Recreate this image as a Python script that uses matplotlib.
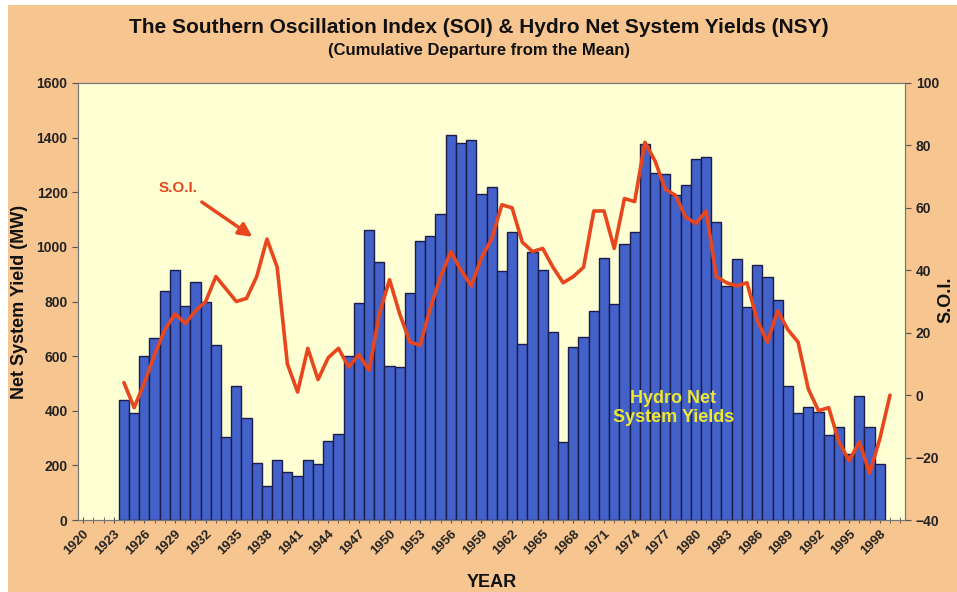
import matplotlib
matplotlib.use("Agg")
import matplotlib.pyplot as plt
import numpy as np
from matplotlib import font_manager

# ---------------- data ----------------
nsy_years = list(range(1924, 1999))
nsy_values = [440, 390, 600, 665, 840, 915, 785, 870, 800, 640,
              305, 490, 375, 208, 125, 220, 175, 160, 220, 205,
              290, 315, 600, 795, 1060, 945, 565, 560, 830, 1020,
              1040, 1120, 1410, 1380, 1390, 1195, 1220, 910, 1055, 645,
              980, 915, 690, 285, 635, 670, 765, 960, 790, 1010,
              1055, 1375, 1270, 1265, 1190, 1225, 1320, 1330, 1090, 855,
              955, 780, 935, 890, 805, 490, 390, 415, 395, 310,
              340, 240, 455, 340, 205]

soi_years = list(range(1924, 2000))
soi_values = [4, -4, 4, 13, 21, 26, 23, 27, 30, 38,
              34, 30, 31, 38, 50, 41, 10, 1, 15, 5,
              12, 15, 9, 13, 8, 26, 37, 26, 17, 16,
              28, 38, 46, 40, 35, 44, 50, 61, 60, 49,
              46, 47, 41, 36, 38, 41, 59, 59, 47, 63,
              62, 81, 75, 66, 64, 57, 55, 59, 38, 36,
              35, 36, 24, 17, 27, 21, 17, 2, -5, -4,
              -15, -21, -15, -25, -14, 0]

tick_years = list(range(1920, 2000, 3))
tick_labels = [str(y) for y in tick_years]

# ---------------- fonts ----------------
avail = {f.name for f in font_manager.fontManager.ttflist}
narrow = "Liberation Sans Narrow" if "Liberation Sans Narrow" in avail else "Liberation Sans"
plt.rcParams['font.family'] = [narrow, 'DejaVu Sans']
sans = ['Liberation Sans', 'DejaVu Sans']

bg = '#F7C590'
plot_bg = '#FFFFD4'
bar_col = '#4261C9'
edge_col = '#1B1C4A'
line_col = '#E8461E'

fig = plt.figure(figsize=(9.57, 5.92), dpi=100, facecolor='white')
fig.patches.append(plt.Rectangle((0.008, 0.0), 0.992, 0.992, transform=fig.transFigure,
                                 facecolor=bg, edgecolor='none', zorder=-10))
ax = fig.add_axes([0.0815, 0.1216, 0.8645, 0.7382])
ax.set_facecolor(plot_bg)

ax.bar(nsy_years, nsy_values, width=1.0, color=bar_col, edgecolor=edge_col, linewidth=1.0, zorder=2)
ax.set_xlim(1919.5, 2000.5)
ax.set_ylim(0, 1600)
ax.set_yticks(range(0, 1601, 200))
ax.set_xticks(tick_years)
ax.set_xticks(range(1920, 2001), minor=True)
ax.set_xticklabels(tick_labels, rotation=45, ha='right', va='top', rotation_mode='anchor',
                   fontsize=9.5, fontweight='bold', color='#222222')
for lab in ax.get_yticklabels():
    lab.set_fontsize(10)
    lab.set_fontweight('bold')
    lab.set_color('#222222')
ax.tick_params(axis='x', which='both', direction='inout', length=5, color='#555555', pad=3)
ax.tick_params(axis='y', direction='out', length=4, color='#555555')
for s in ax.spines.values():
    s.set_color('#777777')
    s.set_linewidth(0.8)

ax.set_ylabel('Net System Yield (MW)', fontsize=13, fontweight='bold',
              family=sans, labelpad=6, color='#111111')
ax.set_xlabel('YEAR', fontsize=13, fontweight='bold',
              family=sans, labelpad=12, color='#111111')

ax2 = ax.twinx()
ax2.plot(soi_years, soi_values, color=line_col, linewidth=2.6, solid_joinstyle='round',
         solid_capstyle='round', zorder=3)
ax2.set_ylim(-40, 100)
ax2.set_yticks(range(-40, 101, 20))
for lab in ax2.get_yticklabels():
    lab.set_fontsize(10)
    lab.set_fontweight('bold')
    lab.set_color('#222222')
ax2.tick_params(axis='y', direction='out', length=4, color='#555555')
for s in ax2.spines.values():
    s.set_color('#777777')
    s.set_linewidth(0.8)
fig.text(0.988, 1 - 300 / 592, 'S.O.I.', rotation=90, ha='center', va='center',
         fontsize=13, fontweight='bold', family=sans, color='#111111')

# annotations
ax.annotate('', xy=(1936.8, 1031), xytext=(1931.4, 1170),
            arrowprops=dict(arrowstyle='-|>,head_length=0.8,head_width=0.4', color=line_col, lw=2.5),
            zorder=5)
ax.text(1929.3, 1215, 'S.O.I.', color=line_col, fontsize=11, fontweight='bold',
        family=sans, ha='center', va='center', zorder=5)
ax.text(1977.8, 410, 'Hydro Net\nSystem Yields', color='#EEE830', fontsize=13, fontweight='bold',
        family=sans, ha='center', va='center', linespacing=1.1, zorder=5)

fig.text(0.5, 0.953, 'The Southern Oscillation Index (SOI) & Hydro Net System Yields (NSY)',
         ha='center', va='center', fontsize=15, fontweight='bold', color='#111111')
fig.text(0.5, 0.914, '(Cumulative Departure from the Mean)',
         ha='center', va='center', fontsize=12, fontweight='bold', color='#111111')

fig.savefig('out.png', dpi=100, facecolor=fig.get_facecolor())
